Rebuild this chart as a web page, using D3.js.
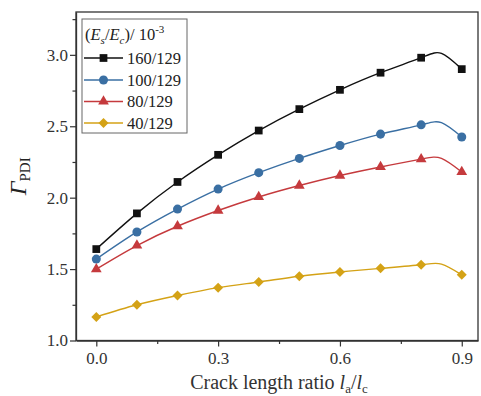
<!DOCTYPE html>
<html>
<head>
<meta charset="utf-8">
<script src="https://cdn.jsdelivr.net/npm/d3@7"></script>
<style>
  html, body { margin: 0; padding: 0; background: #fff; }
  svg { display: block; }
  svg text { font-family: "Liberation Serif", "Times New Roman", Times, serif; }
</style>
</head>
<body>
<svg id="chart" width="481" height="396"></svg>
<script>
// Crack length ratio la/lc (0.85 is an extra computed sample without a marker)
const ratios = [0.0, 0.1, 0.2, 0.3, 0.4, 0.5, 0.6, 0.7, 0.8, 0.85, 0.9];
const unmarkedRatios = [0.85];

// Γ_PDI for each stiffness ratio Es/Ec (×10^-3)
const seriesNames = ["160/129", "100/129", "80/129", "40/129"];
const gamma160 = [1.64, 1.89, 2.11, 2.30, 2.47, 2.62, 2.755, 2.875, 2.98, 3.01, 2.90];
const gamma100 = [1.57, 1.76, 1.92, 2.06, 2.175, 2.275, 2.365, 2.445, 2.51, 2.525, 2.425];
const gamma80  = [1.50, 1.665, 1.80, 1.91, 2.005, 2.085, 2.155, 2.215, 2.27, 2.275, 2.18];
const gamma40  = [1.165, 1.25, 1.315, 1.37, 1.41, 1.45, 1.48, 1.505, 1.53, 1.535, 1.46];

const seriesColors = ["#111111", "#3a6fa3", "#c53a3d", "#d4a216"];
const seriesSymbols = [d3.symbolSquare, d3.symbolCircle, d3.symbolTriangle, d3.symbolSquare];
const seriesSizes = [60, 64, 50, 50];
const seriesRotation = [0, 0, 0, 45];

const xTicks = [0.0, 0.3, 0.6, 0.9];
const xMinorTicks = [0.15, 0.45, 0.75];
const yTicks = [1.0, 1.5, 2.0, 2.5, 3.0];
const yMinorTicks = [1.25, 1.75, 2.25, 2.75, 3.25];

const allSeries = [gamma160, gamma100, gamma80, gamma40];

const svg = d3.select("#chart");
const plotLeft = 76, plotRight = 478, plotTop = 12, plotBottom = 340.5;

const x = d3.scaleLinear().domain([-0.05, 0.94]).range([plotLeft, plotRight]);
const y = d3.scaleLinear().domain([1.0, 3.3]).range([plotBottom, plotTop]);

const axisColor = "#333";
const serif = "'Liberation Serif', 'Times New Roman', serif";

// frame
svg.append("rect")
  .attr("x", plotLeft).attr("y", plotTop)
  .attr("width", plotRight - plotLeft).attr("height", plotBottom - plotTop)
  .attr("fill", "none").attr("stroke", axisColor).attr("stroke-width", 1.3);

// bottom axis
const xAxis = svg.append("g").attr("transform", `translate(0,${plotBottom})`)
  .call(d3.axisBottom(x).tickValues(xTicks).tickFormat(d3.format(".1f")).tickSize(6).tickSizeOuter(0));
svg.append("g").attr("transform", `translate(0,${plotBottom})`)
  .call(d3.axisBottom(x).tickValues(xMinorTicks).tickFormat("").tickSize(3.5).tickSizeOuter(0))
  .call(g => g.select(".domain").remove());

// left axis
const yAxis = svg.append("g").attr("transform", `translate(${plotLeft},0)`)
  .call(d3.axisLeft(y).tickValues(yTicks).tickFormat(d3.format(".1f")).tickSize(6).tickSizeOuter(0));
svg.append("g").attr("transform", `translate(${plotLeft},0)`)
  .call(d3.axisLeft(y).tickValues(yMinorTicks).tickFormat("").tickSize(3.5).tickSizeOuter(0))
  .call(g => g.select(".domain").remove());

svg.selectAll("g").attr("font-family", serif);
svg.selectAll(".tick line").attr("stroke", axisColor).attr("stroke-width", 1.2);
svg.selectAll(".domain").attr("stroke", axisColor).attr("stroke-width", 1.3);
svg.selectAll(".tick text")
  .attr("fill", "#333")
  .style("font-family", serif)
  .style("font-size", "17px");
xAxis.selectAll(".tick text").attr("dy", "0.71em").attr("y", 11);
yAxis.selectAll(".tick text").attr("x", -8);

// curves
const line = d3.line()
  .x((d, i) => x(ratios[i]))
  .y(d => y(d))
  .curve(d3.curveNatural);

allSeries.forEach((vals, k) => {
  svg.append("path")
    .datum(vals)
    .attr("d", line)
    .attr("fill", "none")
    .attr("stroke", seriesColors[k])
    .attr("stroke-width", 1.4);
  const pts = vals.map((v, i) => ({ r: ratios[i], v }))
    .filter(p => !unmarkedRatios.includes(p.r));
  svg.append("g").selectAll("path")
    .data(pts)
    .join("path")
    .attr("transform", p => `translate(${x(p.r)},${y(p.v)}) rotate(${seriesRotation[k]})`)
    .attr("d", d3.symbol().type(seriesSymbols[k]).size(seriesSizes[k]))
    .attr("fill", seriesColors[k]);
});

// legend
const leg = svg.append("g");
leg.append("rect")
  .attr("x", 82).attr("y", 19).attr("width", 105).attr("height", 114)
  .attr("fill", "#fff").attr("stroke", "#666").attr("stroke-width", 1);

const title = leg.append("text").attr("x", 85).attr("y", 40)
  .attr("fill", "#222").style("font-size", "16.5px").style("font-family", serif);
title.append("tspan").text("(");
title.append("tspan").text("E").style("font-style", "italic");
title.append("tspan").text("s").style("font-size", "11px").style("font-style", "italic").attr("dy", 4);
title.append("tspan").text("/").attr("dy", -4);
title.append("tspan").text("E").style("font-style", "italic");
title.append("tspan").text("c").style("font-size", "11px").style("font-style", "italic").attr("dy", 4);
title.append("tspan").text(")/ 10").attr("dy", -4);
title.append("tspan").text("-3").style("font-size", "11px").attr("dy", -7);

const rowY = [58, 80, 101.5, 123];
seriesNames.forEach((name, k) => {
  const ry = rowY[k];
  leg.append("line").attr("x1", 84).attr("x2", 123).attr("y1", ry).attr("y2", ry)
    .attr("stroke", seriesColors[k]).attr("stroke-width", 1.4);
  leg.append("path")
    .attr("transform", `translate(103.5,${ry}) rotate(${seriesRotation[k]})`)
    .attr("d", d3.symbol().type(seriesSymbols[k]).size(seriesSizes[k]))
    .attr("fill", seriesColors[k]);
  leg.append("text").attr("x", 127).attr("y", ry + 5.5)
    .attr("fill", "#222").style("font-size", "16.5px").style("font-family", serif).text(name);
});

// x title
const xt = svg.append("text").attr("x", (plotLeft + plotRight) / 2 + 2).attr("y", 389)
  .attr("text-anchor", "middle").attr("fill", "#333")
  .style("font-size", "20px").style("font-family", serif);
xt.append("tspan").text("Crack length ratio ");
xt.append("tspan").text("l").style("font-style", "italic");
xt.append("tspan").text("a").style("font-size", "13px").attr("dy", 4);
xt.append("tspan").text("/").attr("dy", -4);
xt.append("tspan").text("l").style("font-style", "italic");
xt.append("tspan").text("c").style("font-size", "13px").attr("dy", 4);

// y title
const yt = svg.append("text")
  .attr("transform", `translate(26,${(plotTop + plotBottom) / 2}) rotate(-90)`)
  .attr("text-anchor", "middle").attr("fill", "#222").style("font-family", serif);
yt.append("tspan").text("Γ").style("font-style", "italic").style("font-size", "24px");
yt.append("tspan").text("PDI").style("font-size", "15px").attr("dy", 4);
</script>
</body>
</html>
